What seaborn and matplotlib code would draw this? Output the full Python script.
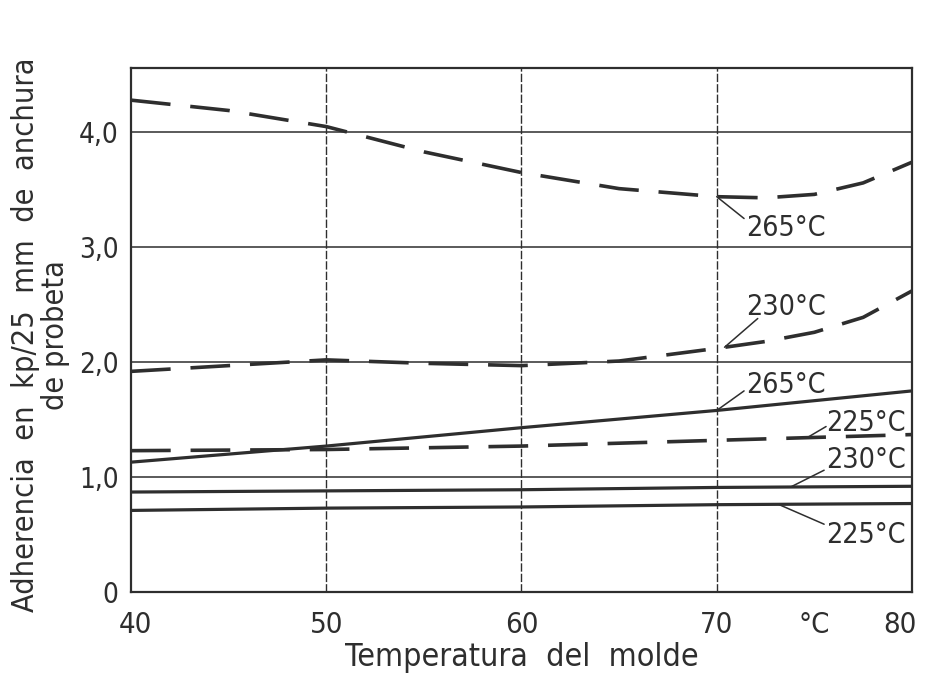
import matplotlib
matplotlib.use("Agg")
import matplotlib.pyplot as plt
import matplotlib.transforms as mtransforms
import seaborn as sns
import pandas as pd

# ---- data ----
temp_5 = [40, 45, 50, 55, 60, 65, 70, 72.5, 75, 77.5, 80]
dash_265 = [4.28, 4.19, 4.05, 3.83, 3.65, 3.51, 3.44, 3.43, 3.46, 3.56, 3.74]
dash_230 = [1.92, 1.97, 2.02, 1.99, 1.97, 2.01, 2.12, 2.18, 2.26, 2.39, 2.62]
temp_10 = [40, 50, 60, 70, 80]
solid_265 = [1.13, 1.27, 1.43, 1.58, 1.75]
dash_225 = [1.23, 1.24, 1.27, 1.32, 1.37]
solid_230 = [0.87, 0.88, 0.89, 0.91, 0.92]
solid_225 = [0.71, 0.73, 0.74, 0.76, 0.77]

x_ticks = [40, 50, 60, 70, 75, 80]
x_ticklabels = ["40", "50", "60", "70", "°C", "80"]
y_ticks = [0, 1, 2, 3, 4]
y_ticklabels = ["0", "1,0", "2,0", "3,0", "4,0"]

series = [
    ("265°C dashed", temp_5, dash_265, True),
    ("230°C dashed", temp_5, dash_230, True),
    ("265°C solid", temp_10, solid_265, False),
    ("225°C dashed", temp_10, dash_225, True),
    ("230°C solid", temp_10, solid_230, False),
    ("225°C solid", temp_10, solid_225, False),
]

INK = "#2e2e2e"
sns.set_theme(style="white")
plt.rcParams["font.family"] = ["DejaVu Sans"]
plt.rcParams["font.stretch"] = "condensed"

fig = plt.figure(figsize=(9.27, 6.79), dpi=100)
ax = fig.add_axes([0.1413, 0.1281, 0.9838 - 0.1413, 0.8999 - 0.1281])

for name, xs, ys, dashed in series:
    df = pd.DataFrame({"x": xs, "y": ys})
    sns.lineplot(data=df, x="x", y="y", ax=ax, color=INK,
                 linewidth=2.6 if dashed else 2.3, legend=False)
    ln = ax.lines[-1]
    if dashed:
        ln.set_dashes([11, 5.5])

ax.set_xlim(40, 80)
ax.set_ylim(0, 4.56)
ax.set_xticks(x_ticks)
ax.set_xticklabels(x_ticklabels)
ax.set_yticks(y_ticks)
ax.set_yticklabels(y_ticklabels)

for gx in [50, 60, 70]:
    ax.axvline(gx, color=INK, lw=1.0, ls=(0, (6, 1.5)), zorder=0)
for gy in [1, 2, 3, 4]:
    ax.axhline(gy, color=INK, lw=1.1, zorder=0)

for s in ax.spines.values():
    s.set_color(INK)
    s.set_linewidth(1.6)
    s.set_visible(True)

ax.tick_params(axis="both", length=0, labelsize=20, colors=INK)
ax.tick_params(axis="x", pad=14, labelsize=21)
ax.tick_params(axis="y", pad=9)

# nudge the outer x tick labels, as in the reference
last = ax.get_xticklabels()[-1]
last.set_transform(last.get_transform() +
                   mtransforms.ScaledTranslation(-0.12, 0, fig.dpi_scale_trans))
first = ax.get_xticklabels()[0]
first.set_transform(first.get_transform() +
                    mtransforms.ScaledTranslation(0.04, 0, fig.dpi_scale_trans))

ax.set_xlabel("Temperatura  del  molde", fontsize=23, color=INK, labelpad=2)
ax.set_ylabel("Adherencia  en  kp/25  mm  de  anchura\nde probeta", fontsize=22,
              color=INK, linespacing=1.05)
ax.yaxis.set_label_coords(-0.078, 0.49)

# labels with leader lines
ann = [
    ("265°C", (70.0, 3.44), (71.5, 3.17), (71.4, 3.25)),
    ("230°C", (70.4, 2.13), (71.5, 2.48), (72.1, 2.38)),
    ("265°C", (70.0, 1.58), (71.5, 1.80), (71.4, 1.75)),
    ("225°C", (74.6, 1.34), (75.6, 1.47), (75.6, 1.44)),
    ("230°C", (73.8, 0.915), (75.6, 1.15), (75.5, 1.06)),
    ("225°C", (73.2, 0.76), (75.6, 0.50), (75.5, 0.59)),
]
for txt, p0, ptxt, p1 in ann:
    ax.plot([p0[0], p1[0]], [p0[1], p1[1]], color=INK, lw=1.1)
    ax.text(ptxt[0], ptxt[1], txt, fontsize=20.5, color=INK, ha="left", va="center")

fig.savefig("out.png", dpi=100, facecolor="white")
